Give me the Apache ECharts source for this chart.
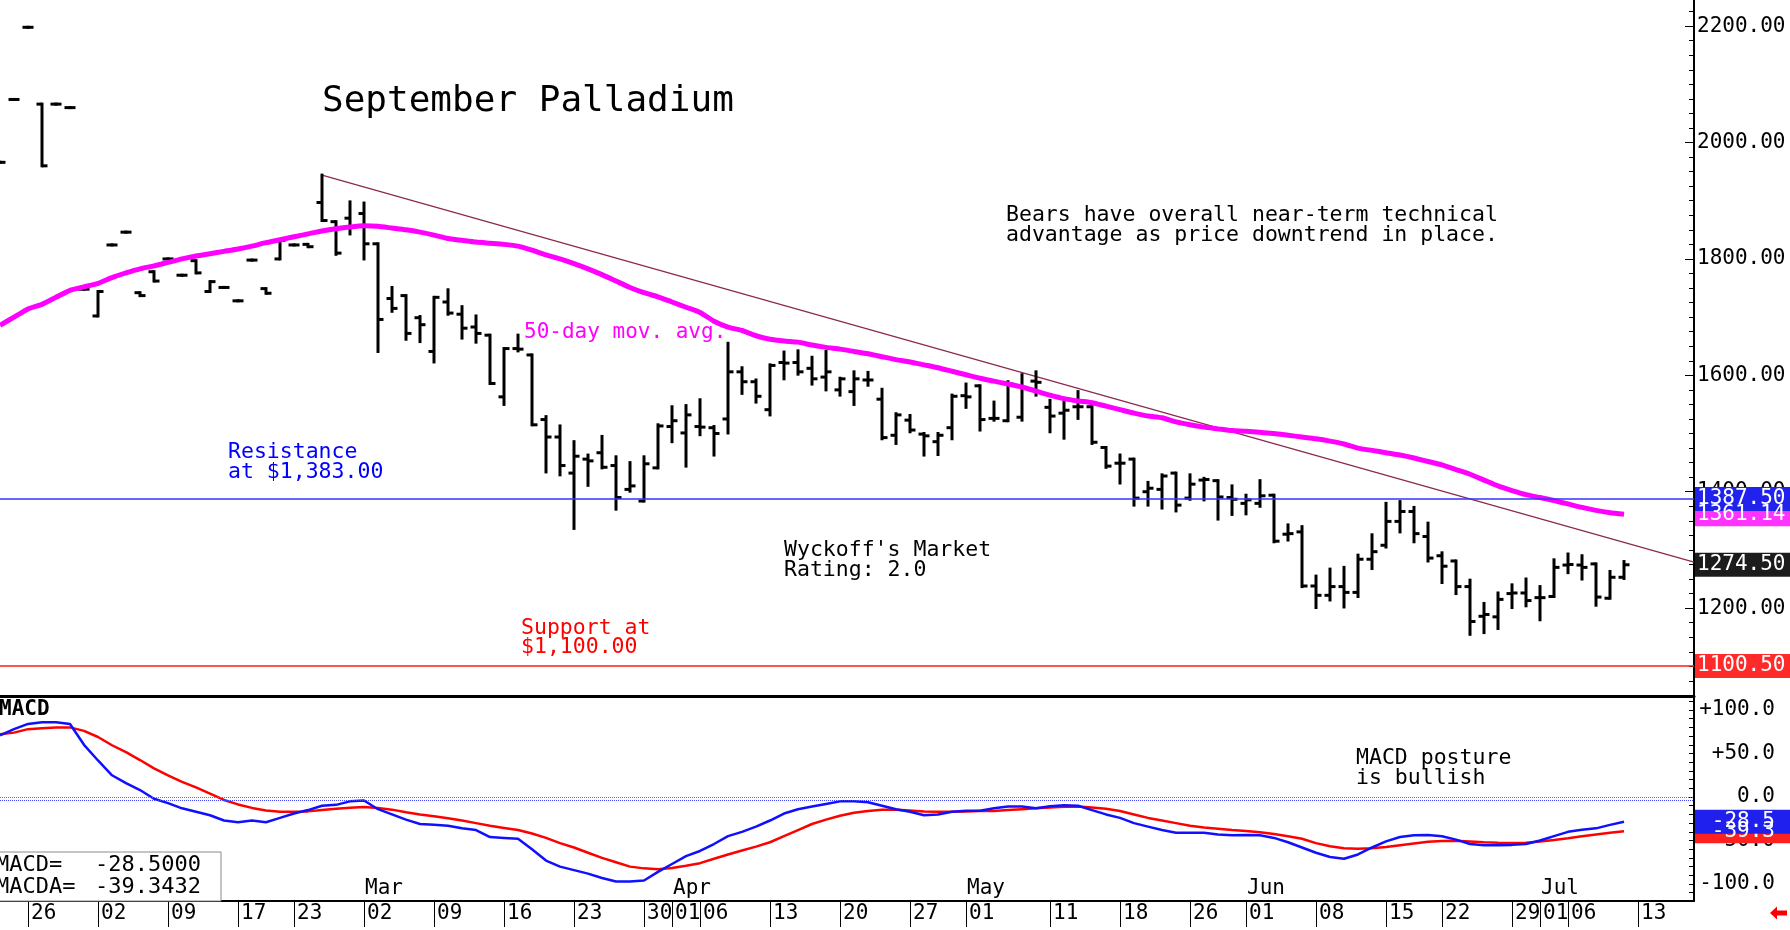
<!DOCTYPE html>
<html>
<head>
<meta charset="utf-8">
<title>September Palladium</title>
<script src="https://cdn.jsdelivr.net/npm/echarts@6/dist/echarts.min.js"></script>
<style>
  html, body { margin: 0; padding: 0; background: #fff; }
  #chart { width: 1790px; height: 930px; }
</style>
</head>
<body>
<div id="chart"></div>
<script>
// trading days shown on the x axis (last five are empty space after the last bar)
const days = [
  '01-22','01-23','01-26','01-27','01-28','01-29','01-30',
  '02-02','02-03','02-04','02-05','02-06','02-09','02-10','02-11','02-12','02-13','02-17','02-18','02-19','02-20','02-23','02-24','02-25','02-26','02-27',
  '03-02','03-03','03-04','03-05','03-06','03-09','03-10','03-11','03-12','03-13','03-16','03-17','03-18','03-19','03-20','03-23','03-24','03-25','03-26','03-27','03-30','03-31',
  '04-01','04-02','04-06','04-07','04-08','04-09','04-10','04-13','04-14','04-15','04-16','04-17','04-20','04-21','04-22','04-23','04-24','04-27','04-28','04-29','04-30',
  '05-01','05-04','05-05','05-06','05-07','05-08','05-11','05-12','05-13','05-14','05-15','05-18','05-19','05-20','05-21','05-22','05-26','05-27','05-28','05-29',
  '06-01','06-02','06-03','06-04','06-05','06-08','06-09','06-10','06-11','06-12','06-15','06-16','06-17','06-18','06-22','06-23','06-24','06-25','06-26','06-29','06-30',
  '07-01','07-02','07-06','07-07','07-08','07-09','07-10','07-13','07-14','07-15','07-16','07-17'
];
const weekLabels = ['01-26','02-02','02-09','02-17','02-23','03-02','03-09','03-16','03-23','03-30','04-01','04-06',
  '04-13','04-20','04-27','05-01','05-11','05-18','05-26','06-01','06-08','06-15','06-22','06-29','07-01','07-06','07-13'];
const monthLabels = { '03-02': 'Mar', '04-01': 'Apr', '05-01': 'May', '06-01': 'Jun', '07-01': 'Jul' };

// daily bars, Jan 22 .. Jul 10
const opens = [1966,2074,2198,2066,2066,2060,1748,1702,1824,1846,1742,1778,
  1800,1772,1797,1744,1751,1728,1798,1749,1800,1824,
  1825,1897,1864,1870,1878,1826,1732,1737,1699,1641,
  1726,1705,1683,1669,1563,1646,1635,1524,1494,1432,
  1456,1467,1445,1404,1384,1441,1512,1501,1512,1510,
  1525,1606,1589,1541,1622,1622,1612,1597,1575,1572,
  1592,1559,1497,1523,1499,1486,1510,1565,1582,1526,
  1522,1528,1590,1545,1535,1546,1546,1476,1449,1456,
  1400,1404,1432,1389,1420,1419,1390,1380,1380,1394,
  1327,1331,1238,1222,1237,1227,1284,1308,1349,1366,
  1323,1290,1281,1237,1186,1185,1225,1226,1218,1220,
  1274,1274,1276,1217,1253];
const highs = [1966,2074,2198,2066,2066,2060,1748,1744,1824,1846,1742,1778,
  1800,1772,1797,1761,1751,1728,1798,1749,1832,1824,
  1825,1944,1864,1898,1896,1826,1751,1737,1701,1734,
  1747,1718,1702,1669,1646,1669,1635,1529,1513,1486,
  1463,1495,1460,1450,1460,1515,1546,1548,1558,1512,
  1655,1613,1592,1618,1640,1642,1631,1641,1595,1606,
  1605,1576,1534,1531,1500,1500,1566,1585,1582,1554,
  1589,1601,1606,1557,1557,1572,1546,1476,1463,1456,
  1416,1429,1432,1429,1423,1419,1410,1394,1419,1394,
  1343,1340,1255,1267,1270,1291,1326,1380,1383,1373,
  1346,1295,1281,1248,1208,1226,1240,1250,1237,1283,
  1293,1290,1276,1263,1280];
const lows = [1966,2074,2198,1960,2066,2060,1748,1702,1824,1846,1737,1762,
  1800,1772,1776,1744,1751,1728,1798,1741,1800,1824,
  1821,1866,1808,1843,1800,1641,1710,1662,1658,1623,
  1705,1664,1657,1586,1550,1642,1515,1434,1429,1337,
  1411,1441,1370,1401,1384,1441,1486,1444,1498,1463,
  1501,1569,1554,1532,1594,1602,1585,1575,1566,1550,
  1583,1491,1483,1503,1463,1464,1491,1545,1506,1523,
  1522,1523,1566,1503,1492,1526,1483,1442,1415,1377,
  1377,1372,1367,1387,1386,1353,1361,1362,1375,1314,
  1317,1237,1201,1214,1202,1220,1268,1305,1331,1314,
  1281,1244,1225,1155,1158,1165,1201,1204,1180,1220,
  1261,1250,1205,1217,1251];
const closes = [1966,2074,2198,1960,2066,2060,1748,1744,1824,1846,1737,1762,
  1800,1772,1776,1761,1751,1728,1798,1741,1832,1824,
  1821,1866,1810,1855,1826,1696,1715,1672,1687,1734,
  1707,1681,1672,1586,1646,1645,1515,1494,1445,1461,
  1453,1442,1390,1410,1448,1513,1522,1532,1511,1500,
  1606,1589,1564,1617,1621,1606,1594,1606,1594,1594,
  1592,1493,1532,1506,1496,1497,1564,1563,1524,1526,
  1585,1578,1588,1530,1540,1546,1485,1444,1449,1389,
  1406,1427,1377,1413,1421,1391,1387,1386,1393,1315,
  1328,1238,1222,1237,1227,1284,1297,1349,1366,1328,
  1286,1272,1237,1177,1189,1215,1226,1213,1218,1270,
  1275,1270,1219,1253,1274.5];

const ma50 = [1686,1700,1714,1722,1734,1746,1752,1758,1768,1776,1783,1788,
  1794,1800,1805,1809,1813,1817,1822,1828,1833,1838,
  1843,1848,1852,1855,1857,1856,1853,1850,1846,1841,
  1835,1832,1829,1827,1825,1822,1815,1807,1800,1792,
  1783,1773,1762,1751,1742,1735,1726,1717,1708,1693,
  1683,1677,1668,1662,1659,1657,1652,1648,1645,1641,
  1637,1632,1627,1623,1618,1613,1607,1601,1595,1590,
  1585,1580,1573,1566,1560,1556,1553,1547,1541,1535,
  1530,1527,1520,1515,1511,1508,1505,1504,1502,1500,
  1497,1494,1491,1487,1482,1475,1471,1467,1463,1458,
  1452,1446,1438,1430,1420,1410,1402,1395,1390,1385,
  1379,1373,1368,1364,1361.14];

const macd = [71,78,84,86,86,84,60,42,25,16,8,-2,
  -7,-13,-17,-21,-27,-29,-27,-29,-24,-19,
  -15,-10,-9,-5,-4,-14,-20,-26,-31,-32,
  -33,-36,-38,-46,-47,-48,-60,-73,-80,-84,
  -88,-93,-97,-97,-96,-86,-77,-68,-62,-54,
  -45,-40,-34,-27,-19,-14,-11,-8,-5,-5,
  -6,-10,-14,-17,-21,-20,-17,-15.7,-15.7,-13,
  -11,-11,-13,-10.5,-9.5,-10,-15,-20,-24,-30,
  -34,-38,-41,-41,-41,-43,-44,-43.7,-44,-47,
  -52,-58,-64,-69,-71,-66,-58,-51,-46,-44,
  -43.7,-45,-49,-54,-55.5,-55.5,-55,-54,-50,-45,
  -40,-37.5,-36,-32,-28.5];
const macdAvg = [72,74,78,79,80,80,76,69,59.5,51.5,42.5,33,
  25,17.5,11,4,-3.4,-8.5,-12.5,-15.5,-17,-17,
  -16.5,-15,-13.5,-12.3,-11.5,-12.5,-14.5,-17.5,-20,-22,
  -24.5,-27,-30,-33,-35.5,-38,-42,-47,-53,-58,
  -64,-70,-75,-80,-82,-83,-81.5,-79,-76,-71,
  -66,-61.5,-57,-52,-45,-38,-31,-26,-21.5,-18,
  -16,-14.5,-14.5,-15.5,-16.5,-17,-17,-16.5,-16,-16,
  -15,-14,-13,-12,-11.3,-11,-12,-13.5,-16,-20,
  -24,-27,-30,-33,-35,-36.5,-38,-39,-40.5,-42.5,
  -45,-48,-53,-56.5,-59,-59.5,-59,-57.5,-55.5,-53.5,
  -51.5,-50.5,-50.3,-51,-52,-52.5,-52.7,-52.5,-51,-49.5,
  -47.5,-45,-43,-41,-39.3432];

const trendline = [[23, 1944], [121, 1279]];
const resistance = 1387.5;
const support = 1100.5;
const priceLabels = [1200, 1400, 1600, 1800, 2000, 2200];
const macdLabels = [-100, -50, 0, 50, 100];

const FONT = '"DejaVu Sans Mono", monospace';
const bars = opens.map((o, k) => [k, o, highs[k], lows[k], closes[k]]);

const priceMinor = [];
for (let v = 1050; v <= 2225; v += 25) priceMinor.push(v);
const macdMinor = [];
for (let v = -110; v <= 110; v += 10) macdMinor.push(v);

const chart = echarts.init(document.getElementById('chart'));

const isWeek = (idx, val) => weekLabels.indexOf(val) >= 0;
const isMonth = (idx, val) => monthLabels[val] !== undefined;

const option = {
  animation: false,
  backgroundColor: '#fff',
  grid: [
    { left: 0, right: 96, top: 0, height: 696, outerBoundsMode: 'none' },
    { left: 0, right: 96, top: 696, height: 205, outerBoundsMode: 'none' }
  ],
  xAxis: [
    {
      gridIndex: 0, type: 'category', data: days, boundaryGap: false, position: 'bottom',
      axisLine: { show: true, onZero: false, lineStyle: { color: '#000', width: 3 } },
      axisTick: { show: false }, axisLabel: { show: false }, splitLine: { show: false }
    },
    {
      gridIndex: 1, type: 'category', data: days, boundaryGap: false, position: 'bottom',
      axisLine: { show: true, onZero: false, lineStyle: { color: '#000', width: 2 } },
      axisTick: { show: true, interval: isWeek, length: 26, lineStyle: { color: '#000', width: 1 } },
      axisLabel: {
        interval: isWeek, formatter: v => v.slice(3), align: 'left', verticalAlign: 'middle',
        margin: 13, padding: [0, 0, 0, 3], fontFamily: FONT, fontSize: 21, color: '#000'
      },
      splitLine: { show: false }
    },
    {
      gridIndex: 1, type: 'category', data: days, boundaryGap: false, position: 'bottom',
      axisLine: { show: false, onZero: false }, axisTick: { show: false },
      axisLabel: {
        inside: true, interval: isMonth, formatter: v => monthLabels[v] || '', align: 'left',
        verticalAlign: 'middle', margin: 12, padding: [0, 0, 0, 1], fontFamily: FONT, fontSize: 21, color: '#000'
      },
      splitLine: { show: false }
    }
  ],
  yAxis: [
    {
      gridIndex: 0, type: 'value', position: 'right', min: 1049, max: 2244.9,
      axisLine: { show: true, lineStyle: { color: '#000', width: 2 } },
      axisTick: { show: true, inside: true, length: 5, customValues: priceMinor, lineStyle: { color: '#000' } },
      axisLabel: { customValues: priceLabels, formatter: v => v.toFixed(2), margin: 3, fontFamily: FONT, fontSize: 21, color: '#000' },
      splitLine: { show: false }
    },
    {
      gridIndex: 0, type: 'value', position: 'right', min: 1049, max: 2244.9,
      axisLine: { show: false },
      axisTick: { show: true, inside: true, length: 9, customValues: priceLabels, lineStyle: { color: '#000' } },
      axisLabel: { show: false }, splitLine: { show: false }
    },
    {
      gridIndex: 1, type: 'value', position: 'right', min: -119.5, max: 116.1,
      axisLine: { show: true, lineStyle: { color: '#000', width: 2 } },
      axisTick: { show: true, inside: true, length: 5, customValues: macdMinor, lineStyle: { color: '#000' } },
      axisLabel: {
        customValues: macdLabels, formatter: v => (v > 0 ? '+' : '') + v.toFixed(1),
        align: 'right', margin: 81, fontFamily: FONT, fontSize: 21, color: '#000'
      },
      splitLine: { show: false }
    }
  ],
  series: [
    {
      name: 'Sept Palladium', type: 'custom', xAxisIndex: 0, yAxisIndex: 0, clip: true,
      encode: { x: 0, y: [1, 2, 3, 4] },
      data: bars,
      renderItem: (params, api) => {
        const k = api.value(0);
        const o = api.coord([k, api.value(1)]);
        const h = api.coord([k, api.value(2)]);
        const l = api.coord([k, api.value(3)]);
        const c = api.coord([k, api.value(4)]);
        const x = h[0];
        const st = { stroke: '#000', lineWidth: 3 };
        return {
          type: 'group',
          children: [
            { type: 'line', shape: { x1: x, y1: h[1] - 1.5, x2: x, y2: l[1] + 1.5 }, style: st },
            { type: 'line', shape: { x1: x - 5.5, y1: o[1], x2: x, y2: o[1] }, style: st },
            { type: 'line', shape: { x1: x, y1: c[1], x2: x + 5.5, y2: c[1] }, style: st }
          ]
        };
      },
      z: 3
    },
    {
      name: '50-day mov. avg.', type: 'line', xAxisIndex: 0, yAxisIndex: 0,
      data: ma50, showSymbol: false, smooth: 0.2,
      lineStyle: { color: '#ff00ff', width: 5 }, z: 4,
      markLine: {
        silent: true, symbol: ['none', 'none'], label: { show: false },
        data: [
          { yAxis: resistance, lineStyle: { color: '#3434ff', width: 1.5, type: 'solid' } },
          { yAxis: support, lineStyle: { color: '#ff1a1a', width: 1.5, type: 'solid' } }
        ]
      }
    },
    {
      name: 'trend', type: 'line', xAxisIndex: 0, yAxisIndex: 0,
      data: trendline, showSymbol: false,
      lineStyle: { color: '#8b2a4e', width: 1.3 }, z: 2
    },
    {
      name: 'MACD', type: 'line', xAxisIndex: 1, yAxisIndex: 2,
      data: macd, showSymbol: false,
      lineStyle: { color: '#1010ff', width: 2.5 }, z: 4,
      markLine: {
        silent: true, symbol: ['none', 'none'], label: { show: false },
        data: [
          { yAxis: 0, lineStyle: { color: '#ff4040', width: 1, type: 'dotted' } },
          { yAxis: -3.5, lineStyle: { color: '#4040ff', width: 1, type: 'dotted' } }
        ]
      }
    },
    {
      name: 'MACDA', type: 'line', xAxisIndex: 1, yAxisIndex: 2,
      data: macdAvg, showSymbol: false,
      lineStyle: { color: '#ff0000', width: 2.5 }, z: 3
    }
  ]
};

chart.setOption(option);

// value tags on the right axis, placed through the axis scales
function tag(yAxisIndex, value, text, bg, rightAlign) {
  const y = chart.convertToPixel({ yAxisIndex: yAxisIndex }, value);
  return [
    { type: 'rect', z: 100, shape: { x: 1695, y: y - 12, width: 95, height: 24 }, style: { fill: bg } },
    {
      type: 'text', z: 101, x: rightAlign ? 1775 : 1697, y: y,
      style: { text: text, fill: '#fff', font: '21px ' + FONT, align: rightAlign ? 'right' : 'left', verticalAlign: 'middle' }
    }
  ];
}

function note(x, y, text, color, size, weight) {
  return {
    type: 'text', z: 50, x: x, y: y,
    style: { text: text, fill: color, font: (weight || 'normal') + ' ' + size + 'px ' + FONT, align: 'left', verticalAlign: 'middle' }
  };
}

const lastMa = ma50[ma50.length - 1];
const lastClose = closes[closes.length - 1];
const lastMacd = macd[macd.length - 1];
const lastAvg = macdAvg[macdAvg.length - 1];

const graphics = [].concat(
  tag(0, lastMa, lastMa.toFixed(2), '#ff33ff', false),
  tag(0, resistance, resistance.toFixed(2), '#2222ee', false),
  tag(0, lastClose, lastClose.toFixed(2), '#1c1c1c', false),
  tag(0, support, support.toFixed(2), '#ff2a2a', false),
  tag(2, lastAvg, lastAvg.toFixed(1), '#ff2020', true),
  tag(2, lastMacd, lastMacd.toFixed(1), '#2020ee', true),
  [
    note(322, 102, 'September Palladium', '#000', 36),
    note(1006, 215, 'Bears have overall near-term technical', '#000', 21.5),
    note(1006, 235, 'advantage as price downtrend in place.', '#000', 21.5),
    note(524, 333, '50-day mov. avg.', '#ff00ff', 21),
    note(228, 452, 'Resistance', '#0000ff', 21.5),
    note(228, 472, 'at $1,383.00', '#0000ff', 21.5),
    note(784, 550, "Wyckoff's Market", '#000', 21.5),
    note(784, 570, 'Rating: 2.0', '#000', 21.5),
    note(521, 628, 'Support at', '#ff0000', 21.5),
    note(521, 647, '$1,100.00', '#ff0000', 21.5),
    note(1356, 758, 'MACD posture', '#000', 21.5),
    note(1356, 778, 'is bullish', '#000', 21.5),
    note(-1, 710, 'MACD', '#000', 21, 'bold'),
    {
      type: 'rect', z: 60, shape: { x: -2, y: 852, width: 223, height: 49 },
      style: { fill: '#fff', stroke: '#8a8a8a', lineWidth: 1 }
    },
    Object.assign(note(-4, 865, 'MACD=', '#000', 22), { z: 61 }),
    Object.assign(note(-4, 887, 'MACDA=', '#000', 22), { z: 61 }),
    Object.assign(note(95, 865, lastMacd.toFixed(4), '#000', 22), { z: 61 }),
    Object.assign(note(95, 887, lastAvg.toFixed(4), '#000', 22), { z: 61 }),
    {
      type: 'polygon', z: 60,
      shape: { points: [[1770, 913], [1777, 906.5], [1777, 910.5], [1787, 910.5], [1787, 915.5], [1777, 915.5], [1777, 919.5]] },
      style: { fill: '#ff0000' }
    }
  ]
);

chart.setOption({ graphic: graphics });
</script>
</body>
</html>
